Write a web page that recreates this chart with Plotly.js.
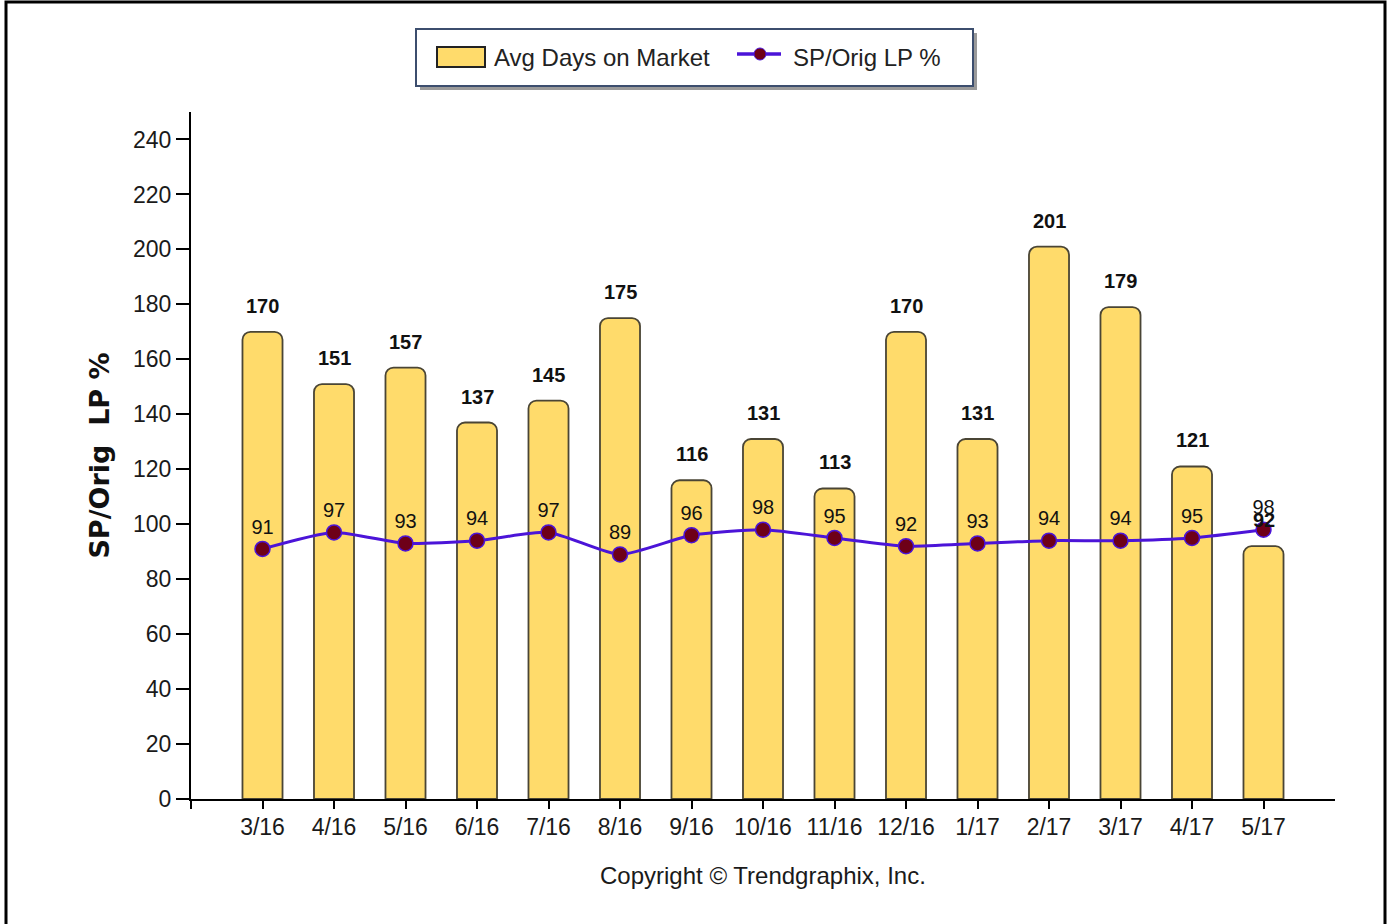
<!DOCTYPE html>
<html>
<head>
<meta charset="utf-8">
<script src="https://cdn.plot.ly/plotly-3.0.1.min.js"></script>
<style>html,body{margin:0;padding:0;background:#fff;}#chart{width:1389px;height:924px;}</style>
</head>
<body>
<div id="chart"></div>
<script>
const months = ["3/16","4/16","5/16","6/16","7/16","8/16","9/16","10/16","11/16","12/16","1/17","2/17","3/17","4/17","5/17"];
const avgDays = [170,151,157,137,145,175,116,131,113,170,131,201,179,121,92];
const spOrigLP = [91,97,93,94,97,89,96,98,95,92,93,94,94,95,98];
const yTicks = [0,20,40,60,80,100,120,140,160,180,200,220,240];
const seriesNames = ["Avg Days on Market", "SP/Orig LP %"];

const idx = months.map((m,i)=>i);
const font = "Liberation Sans, Arial, sans-serif";
const barColor = "#FFDB6B";
const lineColor = "#4B14D8";
const markerColor = "#6E0018";

const traces = [
  {
    type: "bar", name: seriesNames[0], x: idx, y: avgDays,
    width: 0.56,
    marker: {color: barColor, line: {color: "#4a4535", width: 1.8}, cornerradius: 8},
    hoverinfo: "skip", showlegend: false
  },
  {
    type: "scatter", mode: "lines+markers+text", name: seriesNames[1], x: idx, y: spOrigLP,
    line: {color: lineColor, width: 3, shape: "spline", smoothing: 0.6},
    marker: {color: markerColor, size: 15, line: {color: lineColor, width: 1.5}},
    text: spOrigLP.map(String), textposition: "top center", cliponaxis: false,
    textfont: {family: font, size: 20, color: "#111"},
    hoverinfo: "skip", showlegend: false
  }
];

// bar value labels, positioned through the axes from the data arrays
const barLabels = avgDays.map((v,i)=>({
  x: idx[i], y: v, xref: "x", yref: "y", text: "<b>" + v + "</b>", showarrow: false,
  yanchor: "middle", xanchor: "center", yshift: 26,
  font: {family: font, size: 20, color: "#111"}
}));

const px = p => (p - 191) / 1144;
const py = p => (799 - p) / 687;

const legendShapes = [
  {type: "rect", xref: "paper", yref: "paper", x0: px(420), x1: px(977), y0: py(90), y1: py(33),
   line: {width: 0}, fillcolor: "#9a9a9a", layer: "above"},
  {type: "rect", xref: "paper", yref: "paper", x0: px(416), x1: px(973), y0: py(86), y1: py(29),
   line: {color: "#3C4E6E", width: 2}, fillcolor: "#fff", layer: "above"},
  {type: "rect", xref: "paper", yref: "paper", x0: px(437), x1: px(485), y0: py(67), y1: py(47),
   line: {color: "#222", width: 2}, fillcolor: barColor, layer: "above"},
  {type: "line", xref: "paper", yref: "paper", x0: px(737), x1: px(781), y0: py(54), y1: py(54),
   line: {color: lineColor, width: 3.5}, layer: "above"},
  {type: "circle", xref: "paper", yref: "paper", x0: px(754), x1: px(766), y0: py(60), y1: py(48),
   line: {color: lineColor, width: 1}, fillcolor: markerColor, layer: "above"}
];

const legendText = [
  {text: seriesNames[0], xref: "paper", yref: "paper", x: px(492), y: py(57), xanchor: "left", yanchor: "middle",
   showarrow: false, font: {family: font, size: 24, color: "#222"}},
  {text: seriesNames[1], xref: "paper", yref: "paper", x: px(791), y: py(57), xanchor: "left", yanchor: "middle",
   showarrow: false, font: {family: font, size: 24, color: "#222"}}
];

const layout = {
  width: 1389, height: 924,
  margin: {l: 191, r: 54, t: 112, b: 125},
  paper_bgcolor: "#fff", plot_bgcolor: "#fff",
  font: {family: font, size: 23, color: "#1a1a1a"},
  showlegend: false,
  xaxis: {
    range: [-1, 15], tickmode: "array", tickvals: [-1].concat(idx), ticktext: [""].concat(months),
    showline: true, linecolor: "#000", linewidth: 2, ticks: "outside", ticklen: 8, tickcolor: "#000", tickwidth: 2,
    showgrid: false, zeroline: false, fixedrange: true, ticklabelstandoff: -2,
    tickfont: {family: font, size: 23, color: "#1a1a1a"}
  },
  yaxis: {
    range: [0, 250], tickmode: "array", tickvals: yTicks,
    showline: true, linecolor: "#000", linewidth: 2, ticks: "outside", ticklen: 13, tickcolor: "#000", tickwidth: 2,
    showgrid: false, zeroline: false, fixedrange: true,
    tickfont: {family: font, size: 23, color: "#1a1a1a"},
    title: {text: "<b>SP/Orig  LP %</b>", font: {family: "DejaVu Sans, Verdana, sans-serif", size: 27, color: "#111"}, standoff: 16}
  },
  annotations: barLabels.concat(legendText, [
    {text: "Copyright \u00A9 Trendgraphix, Inc.", xref: "paper", yref: "paper", x: px(763), y: py(875),
     xanchor: "center", yanchor: "middle", showarrow: false, font: {family: font, size: 24, color: "#1a1a1a"}}
  ]),
  shapes: [
    {type: "rect", xref: "paper", yref: "paper", x0: px(6), x1: px(1385), y0: py(935), y1: py(2),
     line: {color: "#000", width: 3}, fillcolor: "rgba(0,0,0,0)", layer: "below"}
  ].concat(legendShapes)
};

Plotly.newPlot("chart", traces, layout, {displayModeBar: false, staticPlot: true});
</script>
</body>
</html>
